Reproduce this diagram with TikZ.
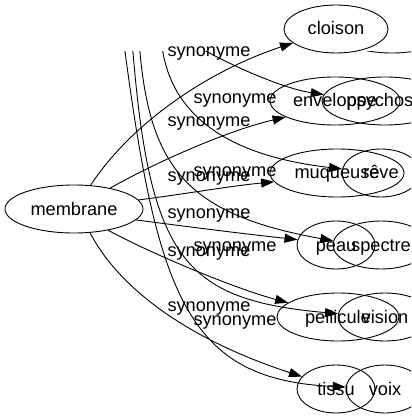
\documentclass[tikz,border=0pt]{standalone}
\usepackage{fontspec}
\setmainfont{Liberation Sans}
\usetikzlibrary{shapes.geometric,arrows.meta}
\begin{document}
\begin{tikzpicture}[x=1pt,y=-1pt,line width=0.9pt,
  word/.style={ellipse,draw,inner sep=0pt,minimum height=48pt,text height=14pt,text depth=2pt,font=\fontsize{18.2}{20}\selectfont},
  lbl/.style={anchor=base,inner sep=0pt,font=\fontsize{18.2}{20}\selectfont},
  arr/.style={-{Triangle[length=13pt,width=9pt]}}]
\useasboundingbox (0,0) rectangle (411,419);
\clip (0,0) rectangle (411,419);
% graph A
\node[word,minimum width=138pt] (membrane) at (74,209) {membrane};
\node[word,minimum width=104pt] (cloison) at (336,29) {cloison};
\node[word,minimum width=130pt] (enveloppe) at (335,101) {enveloppe};
\node[word,minimum width=134pt] (muqueuse) at (337,173) {muqueuse};
\node[word,minimum width=78pt] (peau) at (336,245) {peau};
\node[word,minimum width=122pt] (pellicule) at (338,317) {pellicule};
\node[word,minimum width=78pt] (tissu) at (336,389) {tissu};
% graph B
\node[word,minimum width=126pt] (psychose) at (385,101) {psychose};
\node[word,minimum width=78pt] (reve) at (381,173) {rêve};
\node[word,minimum width=96pt] (spectre) at (381,245) {spectre};
\node[word,minimum width=94pt] (vision) at (385,317) {vision};
\node[word,minimum width=78pt] (voix) at (385,389) {voix};
% edges A
\draw[arr] (membrane.55) .. controls (130,125) and (205,72) .. (cloison.198);
\draw[arr] (membrane.30) .. controls (160,160) and (230,130) .. (enveloppe.198);
\draw[arr] (membrane.8) .. controls (185,194) and (230,186) .. (muqueuse.188);
\draw[arr] (membrane.-10) .. controls (190,227) and (245,234) .. (peau.172);
\draw[arr] (membrane.-32) .. controls (160,258) and (240,290) .. (pellicule.164);
\draw[arr] (membrane.-56) .. controls (120,290) and (190,340) .. (tissu.160);
% edges B, cut at the top
\begin{scope}
\clip (0,51.5) rectangle (411,419);
\node[ellipse,draw,inner sep=0pt,minimum width=120pt,minimum height=48pt] (hidden) at (392,29) {};
\coordinate (s1) at (204,50);
\coordinate (s2) at (162.5,50);
\coordinate (s3) at (139.8,50);
\coordinate (s4) at (132.8,50);
\coordinate (s5) at (124.8,50);
\draw[arr] (s1) .. controls (225,62) and (280,88) .. (psychose.174);
\draw[arr] (s2) .. controls (172,110) and (220,155) .. (reve.174);
\draw[arr] (s3) .. controls (150,170) and (190,215) .. (spectre.175);
\draw[arr] (s4) .. controls (150,260) and (185,300) .. (vision.176);
\draw[arr] (s5) .. controls (158,300) and (190,380) .. (voix.177);
\end{scope}
% labels
\node[lbl] (l1) at (209,56.7) {synonyme};
\node[lbl] (l2) at (209,126.7) {synonyme};
\node[lbl] (l3) at (209,181.7) {synonyme};
\node[lbl] (l4) at (209,218.3) {synonyme};
\node[lbl] (l5) at (209,256.7) {synonyme};
\node[lbl] (l6) at (209,311.7) {synonyme};
\node[lbl] (m1) at (235,103.3) {synonyme};
\node[lbl] (m2) at (235,176.7) {synonyme};
\node[lbl] (m3) at (235,251.7) {synonyme};
\node[lbl] (m4) at (235,325) {synonyme};
\end{tikzpicture}
\end{document}
